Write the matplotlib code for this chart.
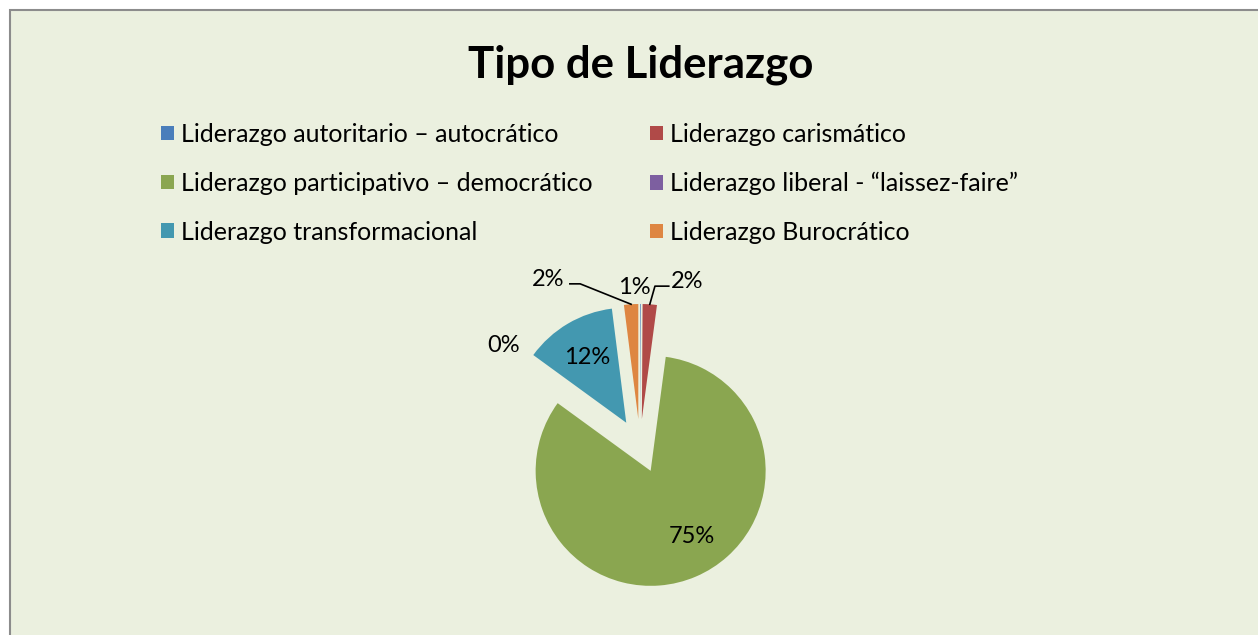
import numpy as np
import matplotlib.pyplot as plt
from matplotlib.patches import Rectangle, Patch

# data
categories = [
    'Liderazgo autoritario – autocrático',
    'Liderazgo carismático',
    'Liderazgo participativo – democrático',
    'Liderazgo liberal - “laissez-faire”',
    'Liderazgo transformacional',
    'Liderazgo Burocrático',
]
# slice sizes as drawn (share of the circle)
values = [0.1, 2.0, 83.0, 0.0, 13.0, 2.0]
# data label texts as printed on the chart
pct_labels = ['1%', '2%', '75%', '0%', '12%', '2%']

colors = ['#4A7EBB', '#B04A48', '#8AA650', '#7D5FA0', '#4398B0', '#DE8642']
bg = '#EBF0DF'

plt.rcParams['font.family'] = ['Lato', 'DejaVu Sans']

W, H = 1258, 635
fig = plt.figure(figsize=(W / 100, H / 100), dpi=100)
fig.patch.set_facecolor('white')

# chart area with grey border (right/bottom edges run off the image)
fig.patches.append(Rectangle((10 / W, -0.05), 1.1, 1 - 10 / H + 0.05,
                             transform=fig.transFigure, facecolor=bg,
                             edgecolor='#8C8C8C', linewidth=1.5, zorder=-10))

fig.text(641 / W, 1 - 65 / H, 'Tipo de Liderazgo', ha='center', va='center',
         fontsize=31.5, fontweight='bold')

# pie axes: 1 data unit = 115 px, centre at (640, 445) px
R = 115
cx, cy = 640, 446
half = 2.0
ax = fig.add_axes([(cx - half * R) / W, 1 - (cy + half * R) / H,
                   2 * half * R / W, 2 * half * R / H])
wedges, _ = ax.pie(values, colors=colors, startangle=90, counterclock=False,
                   explode=[0.235] * len(values), radius=1,
                   wedgeprops=dict(linewidth=0))
ax.set_xlim(-half, half)
ax.set_ylim(-half, half)
ax.set_aspect('equal')
ax.axis('off')

lab_pos = [(-0.05, 1.38), (0.41, 1.43), (0.45, -0.79),
           (-1.19, 0.87), (-0.46, 0.77), (-0.80, 1.45)]
for txt, (x, y) in zip(pct_labels, lab_pos):
    ax.text(x, y, txt, ha='center', va='center', fontsize=17)


# leader lines for the two thin slices
def tip(w, r=1.0):
    a = np.deg2rad((w.theta1 + w.theta2) / 2)
    return w.center[0] + r * np.cos(a), w.center[1] + r * np.sin(a)


tx, ty = tip(wedges[1])
ax.plot([0.25, 0.13, tx], [1.39, 1.39, ty], color='black', lw=1.2)
tx, ty = tip(wedges[5])
ax.plot([-0.61, -0.52, tx], [1.41, 1.41, ty], color='black', lw=1.2)

# legend, filled row by row
order = [0, 2, 4, 1, 3, 5]
handles = [Patch(facecolor=colors[i], edgecolor='none') for i in order]
labels = [categories[i] for i in order]
fig.legend(handles, labels, ncol=2, loc='upper left',
           bbox_to_anchor=(161 / W, 1 - 123 / H), frameon=False,
           fontsize=18, handlelength=0.52, handleheight=0.52,
           handletextpad=0.28, labelspacing=1.03, columnspacing=2.3,
           borderaxespad=0, borderpad=0)

fig.savefig('out.png', dpi=100, facecolor='white')
